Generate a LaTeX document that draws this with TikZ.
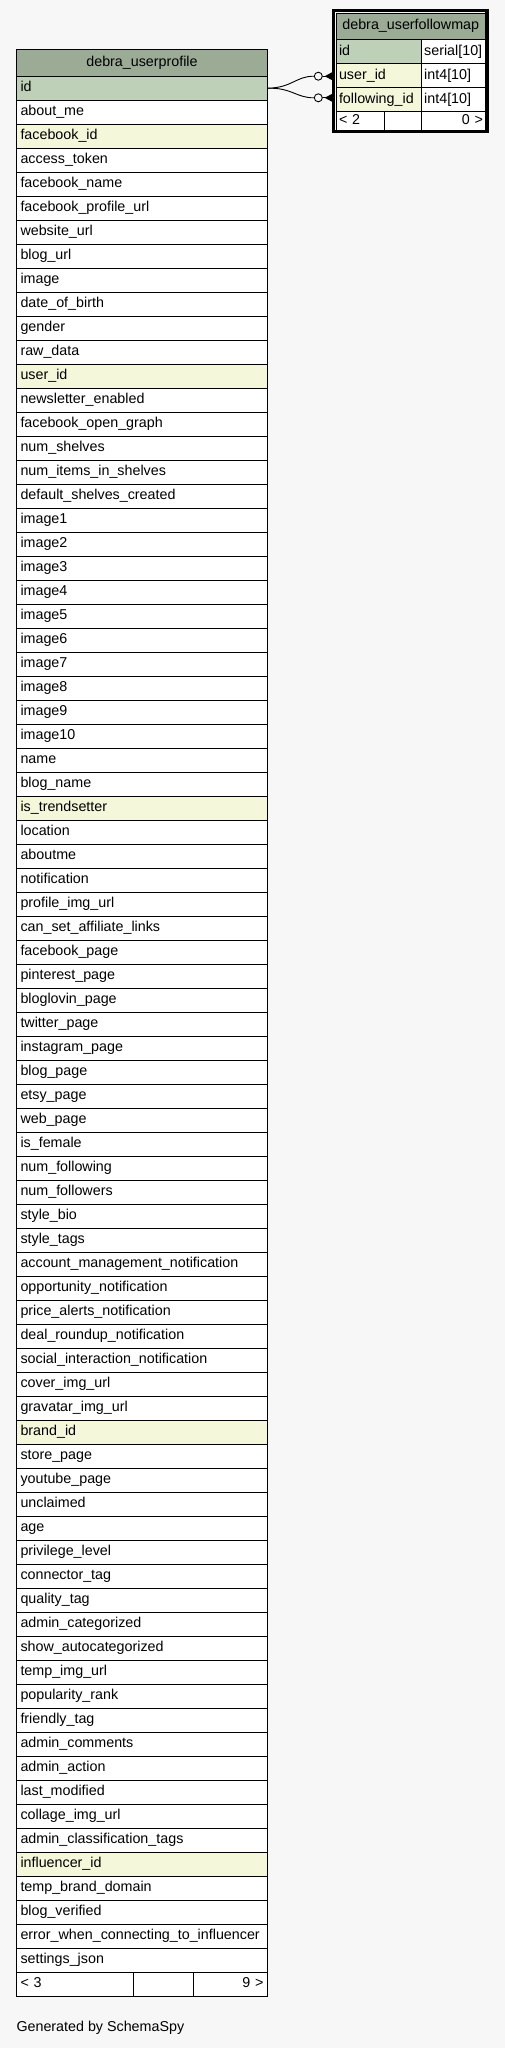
\documentclass[tikz,border=0pt]{standalone}
\usepackage{fontspec}
\setmainfont{Liberation Sans}
\usetikzlibrary{calc}
\definecolor{bgc}{HTML}{F7F7F7}
\definecolor{headc}{HTML}{9BAB96}
\definecolor{pkc}{HTML}{BED1B8}
\definecolor{idxc}{HTML}{F4F7DA}
\begin{document}
\begin{tikzpicture}[x=1pt,y=-1pt,
  font=\fontsize{14.3}{16}\selectfont,
  cell/.style={draw=black, line width=1pt, rectangle, anchor=north west,
    minimum height=24pt, inner xsep=4pt, inner ysep=0pt,
    text height=10pt, text depth=3pt},
  lcell/.style={cell, align=left},
  rcell/.style={cell, align=right},
  headcell/.style={cell, fill=headc, minimum height=26.3pt, align=center},
  zerocirc/.style={circle, draw=black, line width=0.9pt, fill=bgc, minimum size=8pt, inner sep=0pt},
  conn/.style={draw=black, line width=0.9pt}
]
\fill[bgc] (0,0) rectangle (505,2048);
\useasboundingbox (0,0) rectangle (505,2048);

% ---- debra_userprofile ----
\node[headcell, minimum width=251pt] (LH) at (16,49.4) {debra\_userprofile};
\foreach \c/\t [count=\i from 0] in {
 pkc/id, white/about\_me, idxc/facebook\_id, white/access\_token, white/facebook\_name,
 white/facebook\_profile\_url, white/website\_url, white/blog\_url, white/image,
 white/date\_of\_birth, white/gender, white/raw\_data, idxc/user\_id,
 white/newsletter\_enabled, white/facebook\_open\_graph, white/num\_shelves,
 white/num\_items\_in\_shelves, white/default\_shelves\_created,
 white/image1, white/image2, white/image3, white/image4, white/image5,
 white/image6, white/image7, white/image8, white/image9, white/image10,
 white/name, white/blog\_name, idxc/is\_trendsetter, white/location,
 white/aboutme, white/notification, white/profile\_img\_url,
 white/can\_set\_affiliate\_links, white/facebook\_page, white/pinterest\_page,
 white/bloglovin\_page, white/twitter\_page, white/instagram\_page,
 white/blog\_page, white/etsy\_page, white/web\_page, white/is\_female,
 white/num\_following, white/num\_followers, white/style\_bio, white/style\_tags,
 white/account\_management\_notification, white/opportunity\_notification,
 white/price\_alerts\_notification, white/deal\_roundup\_notification,
 white/social\_interaction\_notification, white/cover\_img\_url,
 white/gravatar\_img\_url, idxc/brand\_id, white/store\_page,
 white/youtube\_page, white/unclaimed, white/age, white/privilege\_level,
 white/connector\_tag, white/quality\_tag, white/admin\_categorized,
 white/show\_autocategorized, white/temp\_img\_url, white/popularity\_rank,
 white/friendly\_tag, white/admin\_comments, white/admin\_action,
 white/last\_modified, white/collage\_img\_url,
 white/admin\_classification\_tags, idxc/influencer\_id,
 white/temp\_brand\_domain, white/blog\_verified,
 white/error\_when\_connecting\_to\_influencer, white/settings\_json}
{
  \node[lcell, fill=\c, text width=243pt] (L\i) at (16,75.7+24*\i) {\t};
}
\node[lcell, fill=white, text width=109.3pt] (LF1) at (16,1971.7) {< 3};
\node[lcell, fill=white, text width=52pt] (LF2) at (133.3,1971.7) {};
\node[rcell, fill=white, text width=65.7pt] (LF3) at (193.3,1971.7) {9 >};

% ---- debra_userfollowmap ----
\node[headcell, minimum width=149.5pt, inner xsep=3pt] (RH) at (335.5,12.6) {debra\_userfollowmap};
\node[lcell, fill=pkc, text width=79.2pt, inner xsep=3pt] (RA) at (335.5,39) {id};
\node[lcell, fill=white, text width=58.8pt, inner xsep=3pt] (RAt) at (420.7,39) {serial[10]};
\node[lcell, fill=idxc, text width=79.2pt, inner xsep=3pt] (RB) at (335.5,63) {user\_id};
\node[lcell, fill=white, text width=58.8pt, inner xsep=3pt] (RBt) at (420.7,63) {int4[10]};
\node[lcell, fill=idxc, text width=79.2pt, inner xsep=3pt] (RC) at (335.5,87) {following\_id};
\node[lcell, fill=white, text width=58.8pt, inner xsep=3pt] (RCt) at (420.7,87) {int4[10]};
\node[lcell, fill=white, text width=42.5pt, inner xsep=3pt, minimum height=19pt] (RF1) at (335.5,111) {< 2};
\node[lcell, fill=white, text width=30.7pt, inner xsep=3pt, minimum height=19pt] (RF2) at (384,111) {};
\node[rcell, fill=white, text width=58.8pt, inner xsep=3pt, minimum height=19pt] (RF3) at (420.7,111) {0 >};

% ---- connectors ----
\node[zerocirc] (o1) at (318.3,76.2) {};
\node[zerocirc] (o2) at (318.3,97.8) {};
\coordinate (k1) at (331.8,76.2);
\coordinate (k2) at (331.8,97.8);
\draw[conn] (L0.east) .. controls (292,87.7) and (296,76.2) .. (o1.west);
\draw[conn] (L0.east) .. controls (292,87.7) and (296,97.8) .. (o2.west);
\draw[conn] (o1.east) -- (k1);
\draw[conn] (o2.east) -- (k2);
\fill[black] ($(o1.east)+(2,0)$) -- ($(k1)+(0,-3.8)$) -- ($(k1)+(0,3.8)$) -- cycle;
\fill[black] ($(o2.east)+(2,0)$) -- ($(k2)+(0,-3.8)$) -- ($(k2)+(0,3.8)$) -- cycle;

% thick frame around the focused table
\draw[line width=3.3pt] (333.3,10.7) rectangle (486.9,131.7);

% ---- footer ----
\node[anchor=base west, inner sep=0pt] (gen) at (16.3,2031) {Generated by SchemaSpy};
\end{tikzpicture}
\end{document}
